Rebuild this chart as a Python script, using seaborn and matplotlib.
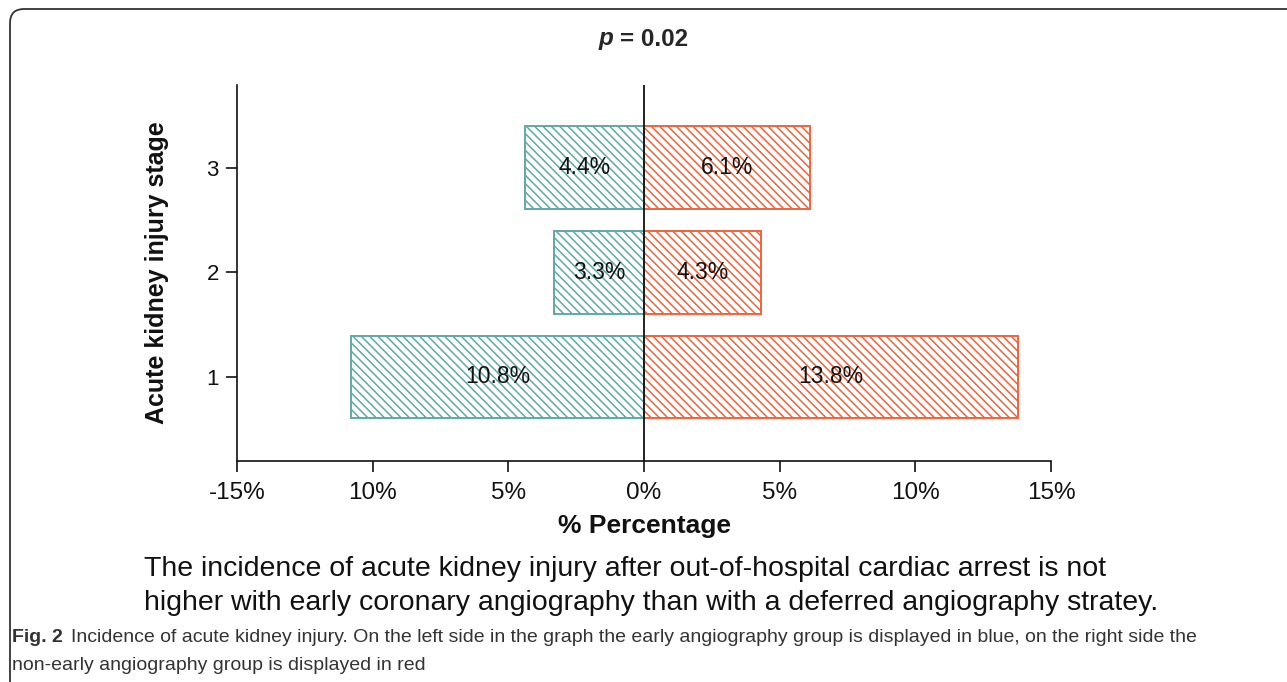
#!/usr/bin/env python3
"""Incidence of acute kidney injury by stage: early vs non-early angiography."""

import pandas as pd
import matplotlib.pyplot as plt
from matplotlib.patches import FancyBboxPatch
import seaborn as sns

# Data (percent of patients per AKI stage)
stages = ['3', '2', '1']
early = [4.4, 3.3, 10.8]
non_early = [6.1, 4.3, 13.8]
groups = ['early', 'non-early']
xticks = [-15, -10, -5, 0, 5, 10, 15]
xtick_labels = ['-15%', '10%', '5%', '0%', '5%', '10%', '15%']

teal = '#5fa9a6'
orange = '#f0643c'

sns.set_theme(style='white')
plt.rcParams['font.family'] = ['Liberation Sans', 'DejaVu Sans']
plt.rcParams['hatch.linewidth'] = 1.1

df = pd.DataFrame({
    'stage': stages * 2,
    'value': [-v for v in early] + non_early,
    'group': [groups[0]] * len(stages) + [groups[1]] * len(stages),
})

W, H = 1287, 682
fig = plt.figure(figsize=(W / 100, H / 100), dpi=100)
ax = fig.add_axes([237 / W, 1 - 461 / H, (1051 - 237) / W, (461 - 85) / H])

sns.barplot(data=df, x='value', y='stage', hue='group', order=stages,
            palette=[teal, orange], dodge=False, orient='h', width=0.79,
            legend=False, ax=ax)

for cont, col in zip(ax.containers, [teal, orange]):
    for bar in cont:
        bar.set_facecolor('white')
        bar.set_edgecolor(col)
        bar.set_hatch('\\\\\\\\')
        bar.set_linewidth(1.4)
    vals = [abs(b.get_width()) for b in cont]
    ax.bar_label(cont, labels=[f'{v:.1f}%' for v in vals], label_type='center',
                 fontsize=16.5, color='#111111')

ax.axvline(0, color='#111111', lw=1.3, zorder=5)

ax.set_xlim(-15, 15)
ax.set_ylim(2.804, -0.79)
ax.set_xticks(xticks)
ax.set_xticklabels(xtick_labels, fontsize=17.5)
ax.tick_params(axis='x', length=8, width=1.2, pad=7, colors='#111111',
               direction='out', bottom=True)
ax.tick_params(axis='y', length=8, width=1.2, pad=5, labelsize=16,
               colors='#111111', direction='out', left=True)

sns.despine(ax=ax)
for s in ['left', 'bottom']:
    ax.spines[s].set_color('#111111')
    ax.spines[s].set_linewidth(1.2)

ax.set_xlabel('% Percentage', fontsize=19, fontweight='bold', color='#111111')
ax.xaxis.set_label_coords(0.5, -0.141)
ax.set_ylabel('Acute kidney injury stage', fontsize=18, fontweight='bold',
              color='#111111')
ax.yaxis.set_label_coords(-0.0835, 0.5)

# Title "p = 0.02"
fig.text(599 / W, 1 - 39 / H, 'p', fontsize=17.5, fontweight='bold',
         style='italic', va='center', ha='left')
fig.text(620 / W, 1 - 39 / H, '= 0.02', fontsize=17.5, fontweight='bold',
         va='center', ha='left')

# Subtitle
fig.text(144 / W, 1 - 569 / H,
         'The incidence of acute kidney injury after out-of-hospital cardiac arrest is not',
         fontsize=20.5, va='center', ha='left', color='#111111')
fig.text(144 / W, 1 - 603 / H,
         'higher with early coronary angiography than with a deferred angiography stratey.',
         fontsize=20.5, va='center', ha='left', color='#111111')

# Caption
cap = fig.text(12 / W, 1 - 637 / H, 'Fig. 2', fontsize=14,
               fontweight='bold', va='center', ha='left', color='#333333')
fig.canvas.draw()
bb = cap.get_window_extent()
fig.text((bb.x1 + 8) / W, 1 - 637 / H,
         'Incidence of acute kidney injury. On the left side in the graph the early '
         'angiography group is displayed in blue, on the right side the',
         fontsize=14, va='center', ha='left', color='#333333')
fig.text(12 / W, 1 - 665 / H, 'non-early angiography group is displayed in red',
         fontsize=14, va='center', ha='left', color='#333333')

# Rounded frame around the figure panel (display pixels, origin bottom-left)
frame = FancyBboxPatch((10, -20), W + 20, H - 9 + 20,
                       boxstyle='round,pad=0,rounding_size=14',
                       transform=None, fill=False, edgecolor='#333333',
                       linewidth=1.3, zorder=10)
fig.patches.append(frame)

fig.savefig('out.png', dpi=100)
